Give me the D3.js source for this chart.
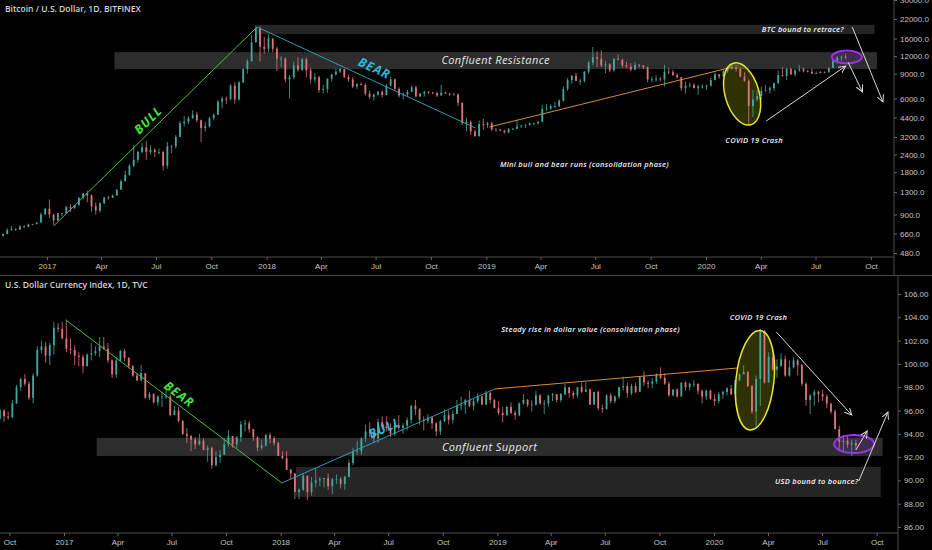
<!DOCTYPE html>
<html>
<head>
<meta charset="utf-8">
<script src="https://cdn.jsdelivr.net/npm/d3@7"></script>
<style>
  body { margin: 0; background: #000; }
  svg { display: block; font-family: "Open Sans", sans-serif; }
  .tick text { fill: #c4c4c4; font-size: 8px; }
  .tick line { stroke: #666; }
</style>
</head>
<body>
<div id="chart"></div>
<script>
// ---------- BTC weekly candles (Bitfinex), weeks starting 2016-10-17 ----------
const btcStart = "2016-10-17";
const btcOpen0 = 636;
const btcClose = [655,700,710,705,740,735,765,770,790,900,990,
  900,820,920,915,1020,1000,1050,1180,1270,1230,1030,960,1080,
  1190,1180,1230,1350,1550,1720,2000,2200,2500,2700,2500,2600,2500,
  2500,2000,2750,2750,3200,4000,4100,4350,4600,4200,3700,3800,4350,
  4600,5700,6000,5900,7400,5900,7800,9700,11000,15000,19000,14000,13500,
  16000,13500,11500,11500,8200,8500,10300,9600,11400,9500,8200,8500,6900,
  7000,8300,8900,9300,9700,8500,8200,7300,7600,7500,6500,6150,6400,
  6700,6350,7400,8200,7000,6300,6400,6700,7200,6200,6500,6700,6600,
  6550,6300,6600,6500,6400,6400,5600,4000,4100,3500,3250,3950,3900,
  4000,3600,3600,3550,3450,3650,3650,3800,3850,3900,4000,4000,4100,
  5050,5100,5300,5300,5800,7000,8100,8700,8000,8000,9300,10800,11800,
  11500,10300,10500,9500,11500,11300,10300,10100,9600,10400,10300,10000,8200,
  8200,8300,8200,9300,9200,8800,8500,7100,7400,7500,7100,7300,7300,
  7400,8100,8900,8600,9400,9900,9900,9700,8600,8000,5300,5900,6250,
  6800,6900,7100,7700,8800,8700,9700,8900,9500,9700,9400,9300,9000,
  9100,9250,9200,9900,11100,11700,11900,11700];
const btcHigh = [660,720,745,720,755,755,775,775,795,930,1000,
  1150,910,925,925,1030,1070,1060,1200,1280,1330,1250,1100,1100,
  1200,1220,1250,1360,1600,1850,2050,2800,2550,2900,3000,2800,2650,
  2650,2550,2950,2800,3300,4150,4500,4500,4950,4800,4250,4100,4450,
  4700,5850,6200,6200,7600,7900,8000,9800,11400,17000,19900,19500,16500,
  17200,16000,14000,12000,11800,8800,11000,11800,11700,11700,9900,9100,8700,
  7500,8300,9000,9800,9900,9700,8900,8500,7700,7800,7700,6850,6500,
  6800,6850,7600,8500,8300,7200,6600,6900,7450,7400,6600,6800,6750,
  6700,6700,7500,6700,6550,6600,6500,5600,4400,4200,3600,4200,4300,
  4100,4100,3700,3650,3600,3700,3700,4200,3900,3950,4050,4050,4150,
  5400,5500,5450,5700,5900,7300,8400,8800,9100,8300,9400,11000,13900,
  13000,13200,11100,10700,11600,12300,11500,10900,10700,10900,10500,10300,10100,
  8600,8800,8500,10400,9900,9600,9100,8500,7900,7800,7700,7500,7600,
  7550,8400,9200,8900,9600,10000,10500,10300,10000,9200,8200,6900,6900,
  7300,7500,7300,7800,9500,10000,9900,9900,9700,10400,9950,9600,9800,
  9300,9450,9350,9950,11400,12000,12100,12450];
const btcLow = [628,650,690,690,700,725,730,755,765,790,900,
  850,760,810,880,910,940,985,1040,1150,1100,940,900,930,
  1070,1150,1180,1230,1350,1550,1700,1950,2100,2450,2200,2400,2300,
  2400,1850,1900,2450,2650,3200,3800,3950,4300,4050,2950,3500,3750,
  4200,4600,5100,5500,6000,5500,5800,7700,9000,11000,15000,11000,12500,
  12800,12800,9400,10000,7800,6000,8200,9300,9400,8500,7700,7800,6600,
  6500,6600,7900,8700,9100,8400,7900,7100,7000,7400,6300,5950,5800,
  6300,6100,6300,7300,6900,6100,5900,6200,6700,6100,6150,6200,6450,
  6450,6150,6300,6450,6250,6350,5300,3900,3500,3300,3200,3200,3600,
  3700,3550,3500,3500,3380,3400,3580,3650,3700,3700,3850,3900,3900,
  4100,4900,5000,5100,5200,5700,6800,7600,8000,7500,7800,9000,10300,
  10000,10000,9100,9200,9300,11200,9900,9800,9400,9600,9900,9700,7800,
  7800,7900,7900,7300,8900,8700,8300,6800,6500,7200,7100,6400,7050,
  6900,7300,8100,8300,8500,9100,9600,9300,8500,7900,3850,4450,5700,
  5900,6700,6500,6800,7600,8600,8100,8800,8600,9300,9200,9200,8950,
  8950,9050,9050,9150,9900,10600,11100,11500];

// ---------- DXY weekly candles (TVC), weeks starting 2016-09-12 ----------
const dxyStart = "2016-09-12";
const dxyOpen0 = 95.3;
const dxyClose = [96.0,95.5,95.4,96.6,98.0,98.7,98.3,97.1,99.0,101.2,101.5,100.7,101.6,103.1,103.0,102.2,
  101.3,101.2,100.7,100.6,99.8,100.8,100.9,101.1,101.5,101.3,100.3,99.1,100.3,
  101.1,100.5,99.8,99.0,98.6,99.2,97.1,97.4,96.7,97.2,97.2,97.2,95.6,
  96.0,95.1,94.0,93.8,93.5,93.1,93.4,92.6,92.8,91.3,92.0,92.2,93.1,
  93.8,93.1,93.7,94.8,94.9,94.4,93.7,92.8,93.0,93.9,93.6,93.2,92.1,
  91.9,90.9,90.6,89.0,89.2,90.4,89.0,89.8,90.0,90.1,90.2,89.5,90.1,
  90.1,89.7,90.3,91.5,92.5,92.5,93.6,94.2,94.1,93.6,95.0,94.6,94.5,
  94.0,94.7,94.5,94.7,95.2,96.4,96.1,95.2,95.1,95.4,94.9,94.2,95.1,
  95.6,95.2,95.7,96.4,96.5,96.9,96.4,96.8,97.2,96.5,97.5,96.9,96.2,
  95.8,95.6,96.3,95.8,95.6,96.6,96.9,96.5,96.5,97.3,96.6,96.6,97.3,
  97.4,96.9,97.4,98.0,97.5,97.3,98.0,97.6,97.8,96.5,97.6,96.2,96.1,
  97.3,96.8,97.2,98.0,98.1,97.5,98.1,97.6,98.9,98.4,98.3,98.5,99.1,
  98.8,98.3,97.3,97.8,97.2,98.4,98.0,98.3,98.3,97.7,97.2,97.7,97.0,
  96.8,97.4,97.6,97.9,97.4,98.6,99.1,99.3,98.1,95.9,98.7,102.8,98.4,
  100.6,99.5,99.8,100.4,99.0,99.7,100.3,99.9,98.3,96.9,97.3,97.6,97.4,
  97.2,96.6,95.9,94.4,93.3,93.4,93.1,93.2,93.0];
const dxyHigh = [96.2,96.1,95.9,96.9,98.2,98.8,99.1,98.5,99.2,101.5,102.0,101.9,101.8,103.6,103.5,103.6,
  103.8,102.2,101.6,101.0,100.8,100.9,101.8,101.5,102.3,102.3,101.8,100.4,100.6,
  101.2,101.3,100.6,99.9,99.2,99.9,99.2,97.6,97.5,97.3,97.6,97.9,97.4,
  96.4,96.3,95.2,94.5,93.9,93.7,94.0,93.6,93.0,92.9,92.5,92.6,93.6,
  94.3,93.8,93.8,95.1,95.2,95.1,94.4,93.8,93.5,94.0,94.1,93.8,93.3,
  92.5,92.5,91.0,90.6,89.3,90.6,90.4,90.3,91.0,90.3,90.2,90.6,90.2,
  90.5,90.3,90.4,91.8,92.8,93.4,93.7,94.8,95.0,94.2,95.3,95.5,95.5,
  94.9,95.0,95.6,94.9,95.4,96.5,96.9,96.2,95.5,95.7,95.5,95.0,95.2,
  96.1,96.0,96.0,96.9,97.2,97.0,97.7,97.0,97.5,97.3,97.7,97.6,97.0,
  96.8,96.3,96.4,96.7,96.0,96.7,97.4,97.0,96.9,97.7,97.4,96.9,97.3,
  97.5,97.4,97.5,98.3,98.0,97.7,98.0,98.4,98.4,97.9,97.6,97.7,96.5,
  97.4,97.5,97.3,98.0,98.9,98.4,98.3,98.4,98.9,99.4,98.6,98.8,99.2,
  99.7,99.2,98.5,97.8,97.9,98.4,98.5,98.4,98.6,98.3,97.8,97.8,97.8,
  97.4,97.6,97.7,98.0,98.2,98.6,99.2,99.9,99.4,98.2,99.0,103.0,102.9,
  101.0,100.9,100.4,100.9,100.7,100.3,100.6,100.4,100.0,98.4,97.4,97.8,97.7,
  97.8,97.4,96.6,96.1,94.7,93.9,93.9,93.5,93.5];
const dxyLow = [95.2,95.0,95.2,95.4,96.6,97.7,98.1,96.9,96.6,98.9,100.9,100.1,99.9,100.8,102.7,102.1,
  101.0,100.8,99.9,99.8,99.2,99.8,100.3,100.7,100.6,101.2,100.1,98.8,98.8,
  100.2,100.2,99.6,98.9,98.5,98.5,97.0,96.9,96.6,96.4,96.3,97.0,95.5,
  95.6,95.0,93.9,93.2,92.5,92.7,93.0,92.6,91.6,91.0,91.2,91.5,92.2,
  92.9,92.8,92.8,93.3,94.2,94.1,93.4,92.5,92.6,92.9,93.2,93.0,92.1,
  91.8,90.9,90.1,88.4,88.4,89.1,88.3,88.7,89.4,89.5,89.4,89.2,88.8,
  89.7,89.3,89.2,90.3,91.3,92.2,92.2,93.3,93.7,93.2,93.2,94.4,94.2,
  93.7,93.8,94.3,94.0,94.3,94.9,95.6,94.8,94.3,94.9,94.4,93.8,93.9,
  95.0,94.8,94.9,95.7,96.0,95.7,96.3,96.0,96.6,96.5,96.6,96.6,96.2,
  95.6,95.0,95.5,95.7,95.2,95.5,96.5,96.3,95.9,96.4,96.5,95.7,96.3,
  96.8,96.7,96.7,97.3,97.1,97.0,97.1,97.5,97.6,96.5,96.5,96.0,95.8,
  96.1,96.6,96.6,97.0,97.7,97.1,97.3,97.5,97.6,98.1,97.9,97.9,98.3,
  98.7,98.2,97.2,97.2,97.1,97.2,97.7,97.7,98.0,97.4,96.6,96.9,96.9,
  96.4,96.6,97.0,97.3,97.3,97.4,98.5,99.1,98.0,95.7,94.6,96.4,98.3,
  98.4,99.4,98.8,99.8,98.9,98.9,99.6,99.0,98.1,96.4,95.7,96.4,96.7,
  96.8,96.2,95.7,94.4,92.5,92.5,92.8,92.1,92.7];

// ---------- axis ticks ----------
const btcTicks = [480, 660, 900, 1300, 1800, 2400, 3200, 4400, 6000, 9000, 12000, 16000, 22000, 30000];
const dxyTicks = [86, 88, 90, 92, 94, 96, 98, 100, 102, 104, 106];
const topQuarters = ["2017-01-01","2017-04-01","2017-07-01","2017-10-01","2018-01-01","2018-04-01","2018-07-01","2018-10-01",
  "2019-01-01","2019-04-01","2019-07-01","2019-10-01","2020-01-01","2020-04-01","2020-07-01","2020-10-01"];
const bottomQuarters = ["2016-10-01"].concat(topQuarters);

// ---------- drawings (in date / price units) ----------
const btcBands = [
  { from: "2017-12-16", to: "2020-10-07", hi: 20000, lo: 17200, text: "" },
  { from: "2017-04-23", to: "2020-10-11", hi: 12800, lo: 9700, text: "Confluent Resistance" }
];
const btcTrends = [
  { a: ["2017-01-12", 746], b: ["2017-12-16", 19300], color: "#45c23c", label: "BULL", lab: ["2017-06-18", 4210], labColor: "#3fe43a" },
  { a: ["2017-12-16", 19300], b: ["2018-12-14", 3700], color: "#2a9fb0", label: "BEAR", lab: ["2018-06-29", 9850], labColor: "#2bb8dc" },
  { a: ["2019-01-06", 3760], b: ["2020-02-14", 10030], color: "#d98a2e" }
];
const btcNotes = [
  { at: ["2020-06-10", 18700], text: "BTC bound to retrace?" },
  { at: ["2020-03-21", 3040], text: "COVID 19 Crash" },
  { at: ["2019-06-13", 2055], text: "Mini bull and bear runs (consolidation phase)" }
];
const btcArrows = [
  [["2020-04-10", 4150], ["2020-08-20", 10190]],
  [["2020-08-24", 10880], ["2020-09-17", 6670]],
  [["2020-08-31", 19300], ["2020-10-21", 5660]]
];
const btcRings = [
  { at: ["2020-03-01", 6460], rx: 17, ry: 32, rot: -16, kind: "covid" },
  { at: ["2020-08-22", 11800], rx: 15, ry: 6.5, rot: 0, kind: "now" }
];

const dxyBands = [
  { from: "2017-02-25", to: "2020-10-11", hi: 93.65, lo: 92.1, text: "Confluent Support" },
  { from: "2018-01-27", to: "2020-10-08", hi: 91.15, lo: 88.58, text: "" }
];
const dxyTrends = [
  { a: ["2017-01-04", 103.77], b: ["2018-01-03", 89.78], color: "#45c23c", label: "BEAR", lab: ["2017-07-14", 97.4], labColor: "#3fe43a" },
  { a: ["2018-01-03", 89.78], b: ["2018-12-28", 97.85], color: "#2a9fb0", label: "BULL", lab: ["2018-06-25", 94.5], labColor: "#2bb8dc" },
  { a: ["2018-12-28", 97.85], b: ["2020-02-10", 99.65], color: "#d98a2e" }
];
const dxyNotes = [
  { at: ["2020-03-16", 104.0], text: "COVID 19 Crash" },
  { at: ["2019-06-07", 103.0], text: "Steady rise in dollar value (consolidation phase)" },
  { at: ["2020-06-22", 89.95], text: "USD bound to bounce?" }
];
const dxyArrows = [
  [["2020-04-15", 102.74], ["2020-08-20", 95.61]],
  [["2020-08-27", 92.61], ["2020-09-15", 94.24]],
  [["2020-09-01", 89.95], ["2020-10-20", 95.87]]
];
const dxyRings = [
  { at: ["2020-03-10", 98.6], rx: 19, ry: 50, rot: 6, kind: "covid" },
  { at: ["2020-08-24", 93.12], rx: 20, ry: 9, rot: 0, kind: "now" }
];

// ---------- setup ----------
const W = 932, H = 550;
const parse = d3.timeParse("%Y-%m-%d");
const upColor = "#46a89c", downColor = "#dc747c";

const svg = d3.select("#chart").append("svg")
  .attr("width", W)
  .attr("height", H)
  .style("background", "#000");

const defs = svg.append("defs");
defs.append("marker")
  .attr("id", "arrow")
  .attr("viewBox", "0 0 8 8")
  .attr("refX", 7).attr("refY", 4)
  .attr("markerWidth", 8).attr("markerHeight", 8)
  .attr("markerUnits", "userSpaceOnUse")
  .attr("orient", "auto")
  .append("path")
  .attr("d", "M0,0.5 L7,4 L0,7.5")
  .attr("fill", "none")
  .attr("stroke", "#d8d8d8")
  .attr("stroke-width", 1);

function makeCandles(start, open0, hi, lo, cl) {
  const t0 = parse(start);
  const n = Math.min(hi.length, lo.length, cl.length);
  return d3.range(n).map(i => {
    const open = i ? cl[i - 1] : open0;
    return {
      date: d3.timeDay.offset(t0, 7 * i + 3),
      open: open,
      close: cl[i],
      high: Math.max(hi[i], open, cl[i]),
      low: Math.min(lo[i], open, cl[i])
    };
  });
}

function quarterFormat(d) {
  return d.getMonth() === 0 ? d3.timeFormat("%Y")(d) : d3.timeFormat("%b")(d);
}

function drawPanel(p) {
  const g = svg.append("g");
  const x = p.x, y = p.y;
  const pt = d => [x(parse(d[0])), y(d[1])];

  g.append("clipPath").attr("id", p.id + "-clip")
    .append("rect")
    .attr("x", 0).attr("y", p.top)
    .attr("width", p.right).attr("height", p.bottom - p.top);

  const plot = g.append("g").attr("clip-path", `url(#${p.id}-clip)`);

  // bands
  p.bands.forEach(b => {
    const x0 = x(parse(b.from)), x1 = x(parse(b.to));
    const y0 = y(b.hi), y1 = y(b.lo);
    plot.append("rect")
      .attr("x", x0).attr("y", y0)
      .attr("width", x1 - x0).attr("height", y1 - y0)
      .attr("fill", b.text ? "#2d2d2d" : "#252525");
    if (b.text) {
      plot.append("text")
        .attr("x", (x0 + x1) / 2).attr("y", (y0 + y1) / 2)
        .attr("dy", "0.35em")
        .attr("text-anchor", "middle")
        .attr("font-size", 11)
        .attr("font-style", "italic")
        .attr("letter-spacing", 0.4)
        .attr("fill", "#e6e6e6")
        .text(b.text);
    }
  });

  // ellipse fills behind candles
  p.rings.forEach(r => {
    const [cx, cy] = pt(r.at);
    plot.append("ellipse")
      .attr("cx", cx).attr("cy", cy)
      .attr("rx", r.rx).attr("ry", r.ry)
      .attr("transform", `rotate(${r.rot},${cx},${cy})`)
      .attr("fill", r.kind === "covid" ? "rgba(190,190,20,0.25)" : "rgba(150,50,230,0.18)");
  });

  // candles
  const cw = p.bodyWidth;
  const candle = plot.append("g").selectAll("g")
    .data(p.data)
    .join("g")
    .attr("transform", d => `translate(${x(d.date)},0)`);

  candle.append("line")
    .attr("y1", d => y(d.high))
    .attr("y2", d => y(d.low))
    .attr("stroke", d => d.close >= d.open ? upColor : downColor)
    .attr("stroke-width", 0.8);

  candle.append("rect")
    .attr("x", -cw / 2)
    .attr("y", d => y(Math.max(d.open, d.close)))
    .attr("width", cw)
    .attr("height", d => Math.max(0.8, Math.abs(y(d.open) - y(d.close))))
    .attr("fill", d => d.close >= d.open ? upColor : downColor);

  // trend lines
  p.trends.forEach(t => {
    const a = pt(t.a), b = pt(t.b);
    plot.append("line")
      .attr("x1", a[0]).attr("y1", a[1])
      .attr("x2", b[0]).attr("y2", b[1])
      .attr("stroke", t.color)
      .attr("stroke-width", 1);
  });

  // ellipse outlines on top
  p.rings.forEach(r => {
    const [cx, cy] = pt(r.at);
    plot.append("ellipse")
      .attr("cx", cx).attr("cy", cy)
      .attr("rx", r.rx).attr("ry", r.ry)
      .attr("transform", `rotate(${r.rot},${cx},${cy})`)
      .attr("fill", "none")
      .attr("stroke", r.kind === "covid" ? "#e8e82c" : "#9a32e6")
      .attr("stroke-width", r.kind === "covid" ? 1.5 : 2);
  });

  // arrows
  p.arrows.forEach(ar => {
    const a = pt(ar[0]), b = pt(ar[1]);
    plot.append("line")
      .attr("x1", a[0]).attr("y1", a[1])
      .attr("x2", b[0]).attr("y2", b[1])
      .attr("stroke", "#d8d8d8")
      .attr("stroke-width", 1)
      .attr("marker-end", "url(#arrow)");
  });

  // trend labels, rotated along their line
  p.trends.filter(t => t.label).forEach(t => {
    const a = pt(t.a), b = pt(t.b);
    const ang = Math.atan2(b[1] - a[1], b[0] - a[0]) * 180 / Math.PI;
    const [lx, ly] = pt(t.lab);
    plot.append("text")
      .attr("transform", `translate(${lx},${ly}) rotate(${ang})`)
      .attr("text-anchor", "middle")
      .attr("dy", "0.35em")
      .attr("font-size", 12.5)
      .attr("font-weight", 700)
      .attr("font-style", "italic")
      .attr("letter-spacing", 1)
      .attr("fill", t.labColor)
      .text(t.label);
  });

  // notes
  p.notes.forEach(n => {
    const [nx, ny] = pt(n.at);
    plot.append("text")
      .attr("x", nx).attr("y", ny)
      .attr("dy", "0.35em")
      .attr("text-anchor", "middle")
      .attr("font-size", 7.5)
      .attr("font-weight", 600)
      .attr("font-style", "italic")
      .attr("letter-spacing", 0.3)
      .attr("fill", "#f2f2f2")
      .text(n.text);
  });

  // axes
  g.append("line")
    .attr("x1", 0).attr("x2", p.right)
    .attr("y1", p.bottom).attr("y2", p.bottom)
    .attr("stroke", "#4a4a4a");
  g.append("line")
    .attr("x1", p.right).attr("x2", p.right)
    .attr("y1", p.axisTop).attr("y2", p.axisBottom)
    .attr("stroke", "#4a4a4a");

  g.append("g")
    .attr("transform", `translate(0,${p.bottom})`)
    .call(d3.axisBottom(x)
      .tickValues(p.quarters.map(parse))
      .tickFormat(quarterFormat)
      .tickSize(3)
      .tickPadding(3))
    .call(s => s.select(".domain").remove());

  g.append("g")
    .attr("transform", `translate(${p.right},0)`)
    .call(d3.axisRight(y)
      .tickValues(p.yTicks)
      .tickFormat(d3.format(p.yFormat))
      .tickSize(3)
      .tickPadding(3))
    .call(s => s.select(".domain").remove());

  // title
  svg.append("text")
    .attr("x", 5).attr("y", p.top + 12)
    .attr("font-size", 8.5)
    .attr("font-weight", 600)
    .attr("fill", "#d6d6d6")
    .text(p.title);
}

// ---------- top: BTCUSD ----------
drawPanel({
  id: "btc",
  title: "Bitcoin / U.S. Dollar, 1D, BITFINEX",
  top: 0, bottom: 257, right: 894, axisTop: 0, axisBottom: 275,
  x: d3.scaleTime().domain([parse("2017-01-01"), parse("2020-01-01")]).range([47, 706]),
  y: d3.scaleLog().domain([480, 22000]).range([253, 19]),
  data: makeCandles(btcStart, btcOpen0, btcHigh, btcLow, btcClose),
  bodyWidth: 1.8,
  quarters: topQuarters,
  yTicks: btcTicks, yFormat: ".1f",
  bands: btcBands, trends: btcTrends, notes: btcNotes, arrows: btcArrows, rings: btcRings
});

// separator under the top time axis
svg.append("line")
  .attr("x1", 0).attr("x2", W)
  .attr("y1", 275.5).attr("y2", 275.5)
  .attr("stroke", "#4a4a4a");

// ---------- bottom: DXY ----------
drawPanel({
  id: "dxy",
  title: "U.S. Dollar Currency Index, 1D, TVC",
  top: 276, bottom: 533, right: 898, axisTop: 276, axisBottom: 550,
  x: d3.scaleTime().domain([parse("2017-01-01"), parse("2020-01-01")]).range([64, 714]),
  y: d3.scaleLinear().domain([86, 106]).range([527, 294]),
  data: makeCandles(dxyStart, dxyOpen0, dxyHigh, dxyLow, dxyClose),
  bodyWidth: 1.8,
  quarters: bottomQuarters,
  yTicks: dxyTicks, yFormat: ".2f",
  bands: dxyBands, trends: dxyTrends, notes: dxyNotes, arrows: dxyArrows, rings: dxyRings
});
</script>
</body>
</html>
